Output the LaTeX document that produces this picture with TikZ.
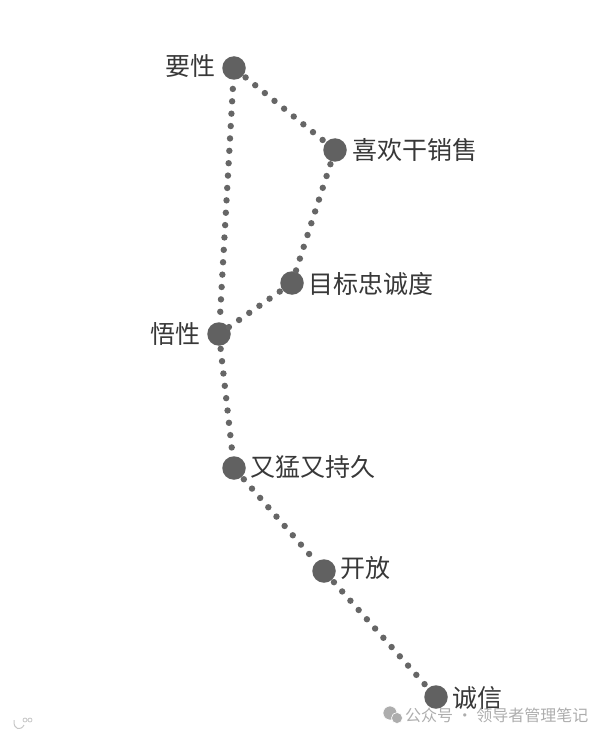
\documentclass[tikz,border=0pt]{standalone}
\usepackage{fontspec}
\setmainfont{Liberation Serif}
\newfontfamily\cjk{Noto Sans CJK SC}
\begin{document}
\begin{tikzpicture}[x=1pt,y=-1pt,
  pt/.style={circle,fill=black!62,inner sep=0pt,minimum size=23.5pt},
  lbl/.style={font=\fontsize{25}{25}\selectfont\cjk,text=black!78,inner sep=0pt},
  link/.style={line width=6.4pt,line cap=round,dash pattern=on 0pt off 12.4pt,draw=black!60,shorten <=3pt},
  wm/.style={font=\fontsize{16}{17}\selectfont\cjk,text=black!32,inner sep=0pt},
  wmicon/.style={circle,fill=black!32,draw=white,line width=0.6pt,inner sep=0pt},
  wmlogo/.style={line width=1pt,draw=black!22}]
\useasboundingbox (0,0) rectangle (607,738);
\node[pt] (A) at (234,68) {};
\node[pt] (B) at (335,150) {};
\node[pt] (C) at (292,283) {};
\node[pt] (D) at (219,334) {};
\node[pt] (E) at (234,468) {};
\node[pt] (F) at (324,571) {};
\node[pt] (G) at (436,697) {};
\draw[link] (A)--(B);
\draw[link] (B)--(C);
\draw[link] (C)--(D);
\draw[link,shorten <=9pt] (A)--(D);
\draw[link] (D)--(E);
\draw[link] (E)--(F);
\draw[link] (F)--(G);
\node[lbl,anchor=east] (la) at (216,66) {要性};
\node[lbl,anchor=west] (lb) at (352,150) {喜欢干销售};
\node[lbl,anchor=west] (lc) at (308,284) {目标忠诚度};
\node[lbl,anchor=east] (ld) at (201,334) {悟性};
\node[lbl,anchor=west] (le) at (250,467) {又猛又持久};
\node[lbl,anchor=west] (lf) at (340,568) {开放};
\node[lbl,anchor=west] (lg) at (452,698) {诚信};
\node[wmicon,minimum size=14pt] (w1) at (390,713) {};
\node[wmicon,minimum size=11pt] (w2) at (397,718) {};
\node[wm,anchor=west] (w) at (405,715) {公众号 · 领导者管理笔记};
\draw[wmlogo] (14,720) .. controls (13,730) and (21,731) .. (24,725);
\draw[wmlogo,line width=0.8pt] (25,720) circle (2pt) (30,720) circle (2pt);
\end{tikzpicture}
\end{document}
